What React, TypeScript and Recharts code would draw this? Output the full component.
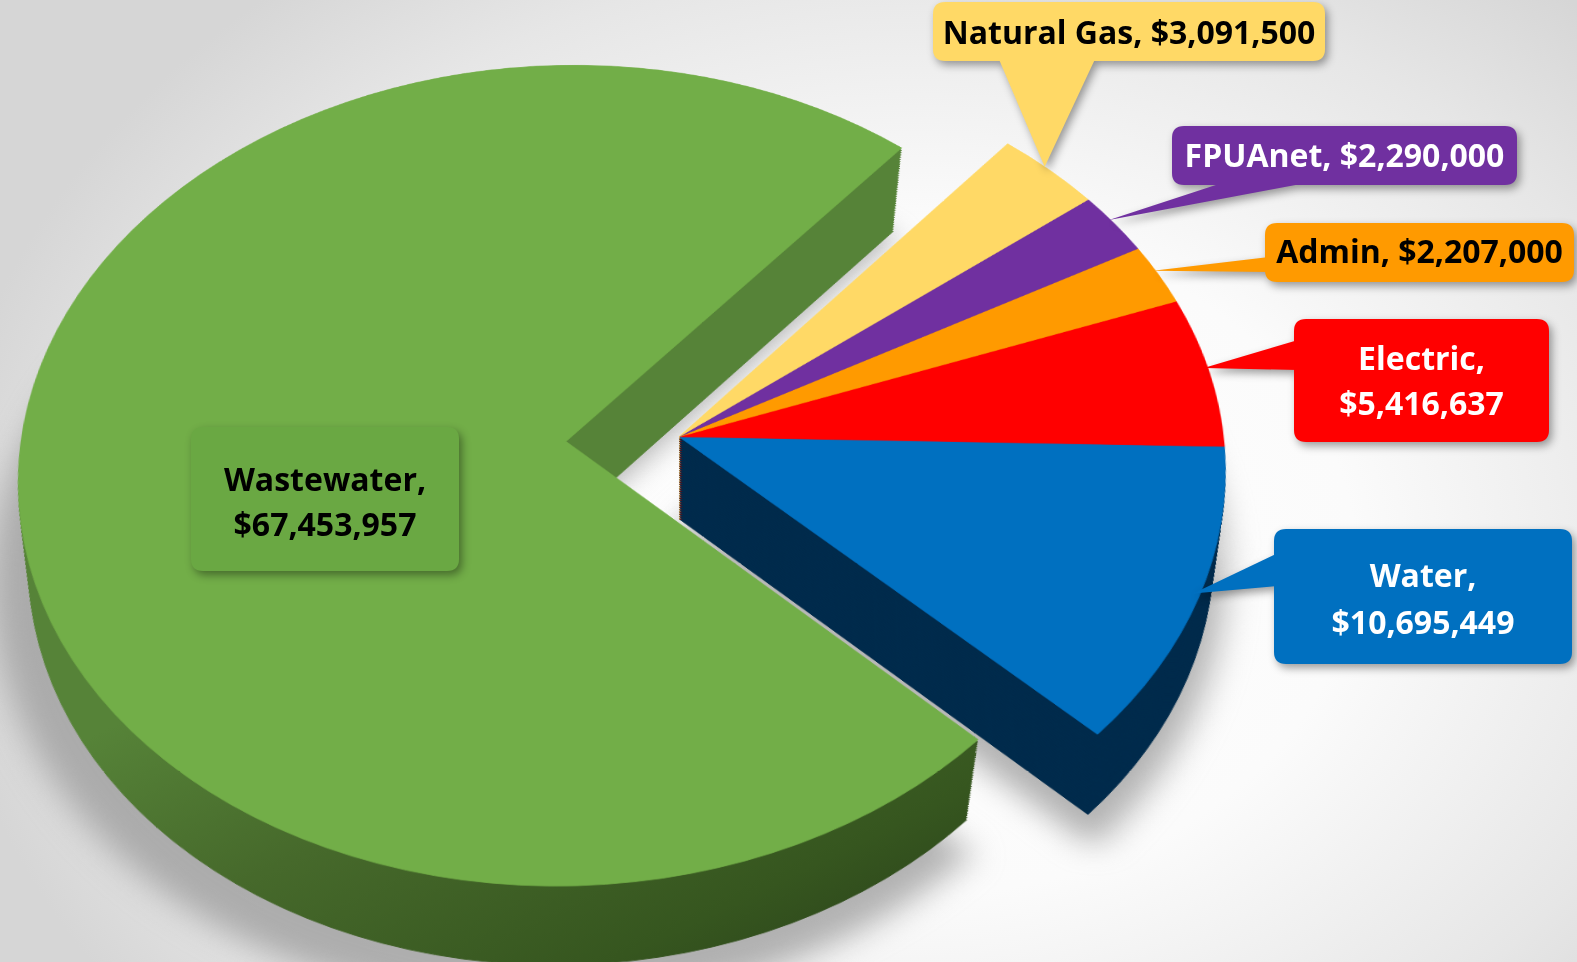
import React from "react";
import { PieChart, Pie, Cell } from "recharts";

// segment data
const names = ["Water", "Electric", "Admin", "FPUAnet", "Natural Gas", "Wastewater"];
const values = [10695449, 5416637, 2207000, 2290000, 3091500, 67453957];
const topColors = ["#0070C0", "#FF0000", "#FF9A00", "#7030A0", "#FFD966", "#72AE48"];
const sideColors = ["#002B4C", "#8A0000", "#9A5C00", "#3C1A57", "#A8893A", "url(#greenSide)"];
const labelLines = [
  ["Water,", "$10,695,449"],
  ["Electric,", "$5,416,637"],
  ["Admin, $2,207,000"],
  ["FPUAnet, $2,290,000"],
  ["Natural Gas, $3,091,500"],
  ["Wastewater,", "$67,453,957"],
];
const labelInk = ["#fff", "#fff", "#000", "#fff", "#000", "#000"];

const data = names.map((name, i) => ({ name, value: values[i] }));

// callout boxes (screen px); pointer base on a box edge, tip comes from the pie
const CALLOUTS = [
  { x: 1274, y: 529, w: 298, h: 135, side: "left", b0: 553, b1: 586, base: [587, 634] },
  { x: 1294, y: 319, w: 255, h: 123, side: "left", b0: 340, b1: 370, base: [370, 415] },
  { x: 1265, y: 223, w: 309, h: 59, side: "left", b0: 257, b1: 272, base: [263] },
  { x: 1172, y: 126, w: 345, h: 59, side: "bottom", b0: 1228, b1: 1317, base: [167] },
  { x: 933, y: 2, w: 392, h: 59, side: "bottom", b0: 998, b1: 1096, base: [44] },
  { x: 191, y: 427, w: 268, h: 144, side: "", b0: 0, b1: 0, base: [491, 536] },
];

// 3D view
const OFFX = 60;
const OFFY = 160;
const SCR_X = 674; // screen position of the pie centre (transform origin)
const SCR_Y = 433;
const CX = SCR_X + OFFX;
const CY = SCR_Y + OFFY;
const R = 544;
const START = -43.6;
const EXPLODE = 113;
const PERSP = 4360;
const TILT = 41.7;
const DEPTH = 108;
const SHRINK = 0.038; // bottom face a little smaller, walls lean inward
const RAD = Math.PI / 180;

const TOTAL = values.reduce((a, b) => a + b, 0);
const greenStart = START + (360 * (TOTAL - values[5])) / TOTAL;
const greenMid = greenStart + (180 * values[5]) / TOTAL;
const GX = CX + EXPLODE * Math.cos(greenMid * RAD);
const GY = CY - EXPLODE * Math.sin(greenMid * RAD);

const layers: number[] = [];
for (let d = DEPTH; d > 0; d -= 3) layers.push(d);

function project(cx0: number, cy0: number, angle: number): [number, number] {
  const dx = cx0 + R * Math.cos(angle * RAD) - CX;
  const dy = cy0 - R * Math.sin(angle * RAD) - CY;
  const s = PERSP / (PERSP - dy * Math.sin(TILT * RAD));
  return [SCR_X + dx * s, SCR_Y + dy * Math.cos(TILT * RAD) * s];
}

function roundRect(x: number, y: number, w: number, h: number, r: number) {
  return `M${x + r},${y}H${x + w - r}Q${x + w},${y} ${x + w},${y + r}V${y + h - r}Q${x + w},${y + h} ${x + w - r},${y + h}H${x + r}Q${x},${y + h} ${x},${y + h - r}V${y + r}Q${x},${y} ${x + r},${y}Z`;
}

function renderCallout(props: any) {
  const i: number = props.index;
  const c = CALLOUTS[i];
  const fill = i === 5 ? "#6AA843" : topColors[i];
  let pointer = null;
  if (c.side) {
    const [tx, ty] = project(CX, CY, props.midAngle);
    const pts =
      c.side === "left"
        ? `${c.x + 4},${c.b0} ${tx},${ty} ${c.x + 4},${c.b1}`
        : `${c.b0},${c.y + c.h - 4} ${tx},${ty} ${c.b1},${c.y + c.h - 4}`;
    pointer = <polygon points={pts} fill={fill} />;
  }
  const mx = c.x + c.w / 2;
  return (
    <g key={`callout-${i}`} className="callout">
      {pointer}
      <path d={roundRect(c.x, c.y, c.w, c.h, 12)} fill={fill} />
      {labelLines[i].map((t, k) => (
        <text
          key={k}
          x={mx}
          y={c.base[k]}
          textAnchor="middle"
          fill={labelInk[i]}
          fontFamily="'Open Sans', sans-serif"
          fontWeight={700}
          fontSize={32}
        >
          {t}
        </text>
      ))}
    </g>
  );
}

function sidePie(key: string, cx: number, cy: number, r: number, green: boolean) {
  return (
    <Pie
      key={key}
      data={data}
      dataKey="value"
      nameKey="name"
      cx={cx}
      cy={cy}
      outerRadius={r}
      startAngle={START}
      endAngle={START + 360}
      stroke="none"
      isAnimationActive={false}
    >
      {data.map((_, i) => {
        const show = green ? i === 5 : i !== 5;
        return (
          <Cell
            key={i}
            fill={show ? sideColors[i] : "none"}
            stroke={show ? sideColors[i] : "none"}
            strokeWidth={1}
          />
        );
      })}
    </Pie>
  );
}

export default function App() {
  return (
    <div
      style={{
        position: "absolute",
        left: 0,
        top: 0,
        width: 1577,
        height: 962,
        overflow: "hidden",
        background:
          "radial-gradient(ellipse 62% 78% at 58% 58%, #ffffff 0%, #fbfbfb 45%, #e6e6e6 80%, #d6d6d6 100%)",
      }}
    >
      <style>{`
        .pie-shadow { filter: blur(16px); }
        .callout { filter: drop-shadow(3px 4px 4px rgba(0,0,0,0.38)); }
      `}</style>
      <div
        style={{
          position: "absolute",
          left: -OFFX,
          top: -OFFY,
          width: 1700,
          height: 1320,
          transform: `perspective(${PERSP}px) rotateX(${TILT}deg)`,
          transformOrigin: `${CX}px ${CY}px`,
        }}
      >
        <PieChart width={1700} height={1320}>
          <defs>
            <linearGradient
              id="greenSide"
              gradientUnits="userSpaceOnUse"
              x1={CX + 50 * 0.507}
              y1={CY + 50 * 0.862}
              x2={CX + 640 * 0.507}
              y2={CY + 640 * 0.862}
            >
              <stop offset="0%" stopColor="#568338" />
              <stop offset="38%" stopColor="#46692B" />
              <stop offset="80%" stopColor="#36561F" />
              <stop offset="100%" stopColor="#2C451B" />
            </linearGradient>
          </defs>
          {[true, false].map((green) => (
            <Pie
              key={`shadow-${green}`}
              data={data}
              dataKey="value"
              cx={(green ? GX : CX) - 12}
              cy={(green ? GY : CY) + DEPTH + 24}
              outerRadius={R}
              startAngle={START}
              endAngle={START + 360}
              stroke="none"
              isAnimationActive={false}
            >
              {data.map((_, i) => (
                <Cell
                  key={i}
                  className="pie-shadow"
                  fill={(green ? i === 5 : i !== 5) ? "#9a9a9a" : "none"}
                  fillOpacity={0.75}
                />
              ))}
            </Pie>
          ))}
          {layers.flatMap((d) => {
            const r = R * (1 - (SHRINK * d) / DEPTH);
            return [
              sidePie(`gs-${d}`, GX, GY + d, r, true),
              sidePie(`rs-${d}`, CX, CY + d, r, false),
            ];
          })}
          {[true, false].map((green) => (
            <Pie
              key={`top-${green}`}
              data={data}
              dataKey="value"
              nameKey="name"
              cx={green ? GX : CX}
              cy={green ? GY : CY}
              outerRadius={R}
              startAngle={START}
              endAngle={START + 360}
              stroke="none"
              isAnimationActive={false}
            >
              {data.map((_, i) => {
                const show = green ? i === 5 : i !== 5;
                return (
                  <Cell
                    key={i}
                    fill={show ? topColors[i] : "none"}
                    stroke={show ? topColors[i] : "none"}
                    strokeWidth={0.8}
                  />
                );
              })}
            </Pie>
          ))}
        </PieChart>
      </div>
      <div style={{ position: "absolute", left: 0, top: 0 }}>
        <PieChart width={1577} height={962}>
          <Pie
            data={data}
            dataKey="value"
            nameKey="name"
            cx={SCR_X}
            cy={SCR_Y}
            outerRadius={1}
            startAngle={START}
            endAngle={START + 360}
            fill="none"
            stroke="none"
            label={renderCallout}
            labelLine={false}
            isAnimationActive={false}
          />
        </PieChart>
      </div>
    </div>
  );
}
